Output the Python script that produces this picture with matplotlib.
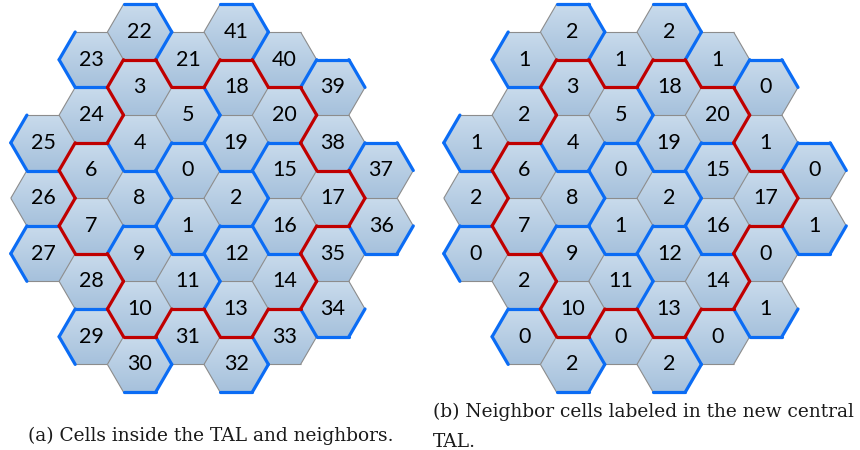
import numpy as np
import matplotlib
matplotlib.use("Agg")
import matplotlib.pyplot as plt
from matplotlib.patches import Polygon
from matplotlib.collections import LineCollection
from matplotlib.colors import LinearSegmentedColormap

# cell id -> axial (q, r) position on the flat-topped hex grid
CELL_Q = [3, 3, 4, 2, 2, 3, 1, 1, 2, 2, 2, 3, 4, 4, 5, 5, 5, 6, 4, 4, 5,
          3, 2, 1, 1, 0, 0, 0, 1, 1, 2, 3, 4, 5, 6, 6, 7, 7, 6, 6, 5, 4]
CELL_R = [1, 2, 1, 0, 1, 0, 2, 3, 2, 3, 4, 3, 2, 3, 2, 0, 1, 0, -1, 0, -1,
          -1, -1, 0, 1, 2, 3, 4, 4, 5, 5, 4, 4, 3, 2, 1, 0, -1, -1, -2, -2, -2]
N_TAL = 21  # cells 0..20 form the central TAL

# labels shown in each panel
LABELS_A = [str(i) for i in range(42)]
NEIGHBOR_LABELS_B = [1, 2, 1, 2, 1, 2, 0, 2, 0, 2, 0, 2, 0, 1, 0, 1, 0, 1, 0, 1, 2]
LABELS_B = [str(i) for i in range(N_TAL)] + [str(v) for v in NEIGHBOR_LABELS_B]

CAPTION_A = "(a) Cells inside the TAL and neighbors."
CAPTION_B = ["(b) Neighbor cells labeled in the new central", "TAL."]

# geometry (pixels)
R = 32.2
H = 55.4
DX = 1.5 * R
PANEL_X0 = [43.0, 476.0]
Y0 = 32.0

GRAY = "#8c8c8c"
BLUE = "#0b6cf4"
RED = "#c00000"
FILL = LinearSegmentedColormap.from_list("cellfill", ["#c9dbec", "#a6c1dc"])

# side -> (neighbour offset, vertex a, vertex b)
SIDES = [
    ((1, -1), (R / 2, -H / 2), (R, 0)),
    ((1, 0), (R, 0), (R / 2, H / 2)),
    ((0, 1), (R / 2, H / 2), (-R / 2, H / 2)),
    ((-1, 1), (-R / 2, H / 2), (-R, 0)),
    ((-1, 0), (-R, 0), (-R / 2, -H / 2)),
    ((0, -1), (-R / 2, -H / 2), (R / 2, -H / 2)),
]
HEX = [(R, 0), (R / 2, H / 2), (-R / 2, H / 2), (-R, 0), (-R / 2, -H / 2), (R / 2, -H / 2)]

tal = {(CELL_Q[i], CELL_R[i]) for i in range(N_TAL)}


def group_of(q, r):
    """3-cell cluster a cell belongs to (lattice x = y mod 3 around (3, 1))."""
    for dq, dr in ((0, 0), (0, 1), (1, 0)):
        bq, br = q - dq, r - dr
        if (bq - 3 - (br - 1)) % 3 == 0:
            return (bq, br)


def draw_panel(ax, x0, labels):
    grad = np.linspace(0, 1, 64)[:, None]
    segs = {"gray": [], "blue": [], "red": []}
    seen = set()
    for q, r, lab in zip(CELL_Q, CELL_R, labels):
        cx = x0 + DX * q
        cy = Y0 + H * (r + q / 2)
        poly = Polygon([(cx + vx, cy + vy) for vx, vy in HEX], closed=True,
                       facecolor="none", edgecolor="none")
        ax.add_patch(poly)
        im = ax.imshow(grad, cmap=FILL, origin="upper", aspect="auto",
                       extent=[cx - R, cx + R, cy + H / 2, cy - H / 2], zorder=1)
        im.set_clip_path(poly)
        ax.text(cx, cy, lab, ha="center", va="center", fontsize=15.5,
                family=["Lato", "DejaVu Sans"], color="black", zorder=5)

        for (dq, dr), va, vb in SIDES:
            nb = (q + dq, r + dr)
            key = frozenset([(q, r), nb])
            if key in seen:
                continue
            seen.add(key)
            seg = [(cx + va[0], cy + va[1]), (cx + vb[0], cy + vb[1])]
            if ((q, r) in tal) != (nb in tal):
                segs["red"].append(seg)
            elif group_of(q, r) != group_of(*nb):
                segs["blue"].append(seg)
            else:
                segs["gray"].append(seg)

    ax.add_collection(LineCollection(segs["gray"], colors=GRAY, linewidths=0.8, zorder=2))
    ax.add_collection(LineCollection(segs["blue"], colors=BLUE, linewidths=2.3,
                                     capstyle="round", zorder=3))
    ax.add_collection(LineCollection(segs["red"], colors=RED, linewidths=2.3,
                                     capstyle="round", zorder=4))


fig = plt.figure(figsize=(8.6, 4.5), dpi=100)
ax = fig.add_axes([0, 0, 1, 1])
draw_panel(ax, PANEL_X0[0], LABELS_A)
draw_panel(ax, PANEL_X0[1], LABELS_B)

cap_font = dict(family=["DejaVu Serif"], fontsize=13.4, color="#1a1a1a")
ax.text(211, 436, CAPTION_A, ha="center", va="center", **cap_font)
ax.text(433, 412, CAPTION_B[0], ha="left", va="center", **cap_font)
ax.text(433, 442, CAPTION_B[1], ha="left", va="center", **cap_font)

ax.set_xlim(0, 860)
ax.set_ylim(450, 0)
ax.axis("off")
fig.savefig("out.png", dpi=100)
